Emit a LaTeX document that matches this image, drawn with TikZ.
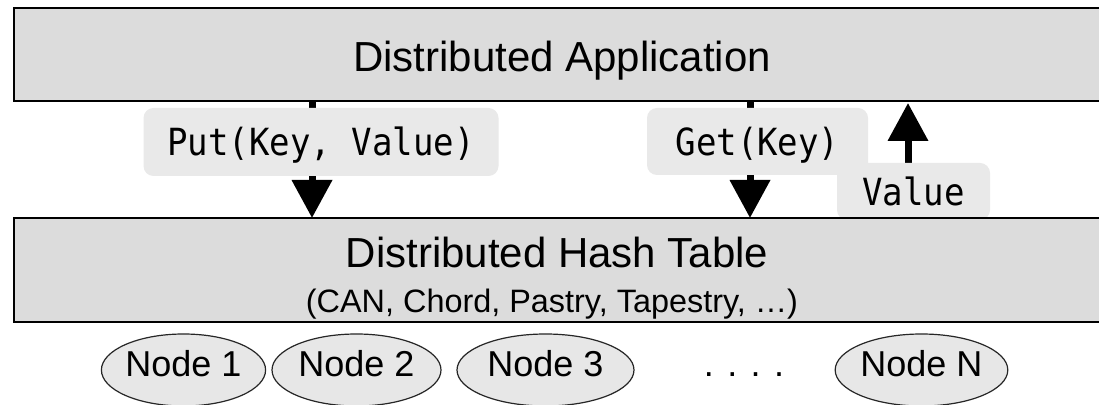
\documentclass[tikz,border=0pt]{standalone}
\usepackage{fontspec}
\setmainfont{Liberation Sans}
\newfontfamily\monof[FakeStretch=0.91]{DejaVu Sans Mono}
\usetikzlibrary{arrows.meta,shapes.geometric}
\definecolor{boxgray}{RGB}{220,220,220}
\definecolor{labgray}{RGB}{233,233,233}
\definecolor{ellgray}{RGB}{231,231,231}
\tikzset{
  layerbox/.style={draw=black, line width=1.25pt, fill=boxgray, inner sep=0pt},
  opbox/.style={fill=labgray, rounded corners=5pt, inner sep=0pt,
    font=\monof\fontsize{18.7}{22}\selectfont, text height=17.2pt, text depth=3.6pt},
  peer/.style={ellipse, draw=black!85, line width=0.6pt, fill=ellgray, inner sep=0pt,
    minimum height=36pt, font=\fontsize{18}{21}\selectfont, text height=13pt, text depth=6.1pt},
  flow/.style={line width=3.5pt, -{Triangle[width=19.5pt,length=19pt]}},
}
\begin{document}
\begin{tikzpicture}[x=0.5pt,y=-0.5pt]
\useasboundingbox (0,0) rectangle (1099,405);
\fill[white] (0,0) rectangle (1099,405);
\clip (0,0) rectangle (1099,405);
% application layer
\node[layerbox, minimum width=548pt, minimum height=46.5pt] (app) at (562,54.5) {};
\node[anchor=base, font=\fontsize{21}{25}\selectfont, inner sep=0pt] (apptxt) at (562,72) {Distributed Application};
% connector end points
\coordinate (putA) at (312,101);
\coordinate (putB) at (312,218);
\coordinate (getA) at (750,101);
\coordinate (getB) at (750,218);
\coordinate (valA) at (908,163);
\coordinate (valB) at (908,103);
\draw[flow] (putA) -- (putB);
\draw[flow] (getA) -- (getB);
\draw[flow] (valA) -- (valB);
% operation labels
\node[opbox, minimum width=177.5pt, minimum height=34pt] (put) at (321,142) {Put(Key, Value)};
\node[opbox, minimum width=110.5pt, minimum height=33.5pt] (get) at (757.5,141.5) {Get(Key)};
\node[opbox, minimum width=76.5pt, minimum height=28.5pt] (val) at (913.5,191.5) {Value};
% DHT layer
\node[layerbox, minimum width=548pt, minimum height=52pt] (dht) at (562,270) {};
\node[anchor=base, font=\fontsize{21}{25}\selectfont, inner sep=0pt] (dhttxt) at (557,268) {Distributed Hash Table};
\node[anchor=base, font=\fontsize{16.2}{19}\selectfont, inner sep=0pt] (dhtsub) at (552,313) {(CAN, Chord, Pastry, Tapestry, …)};
% peers
\node[peer, minimum width=81.5pt] (n1) at (183.5,370) {Node 1};
\node[peer, minimum width=84.5pt] (n2) at (356.5,370) {Node 2};
\node[peer, minimum width=88.5pt] (n3) at (545.5,370) {Node 3};
\node[anchor=base, font=\fontsize{18}{21}\selectfont, inner sep=0pt] (dots) at (744,377) {. . . .};
\node[peer, minimum width=80.5pt] (nN) at (921.5,370) {Node N};
\end{tikzpicture}
\end{document}
